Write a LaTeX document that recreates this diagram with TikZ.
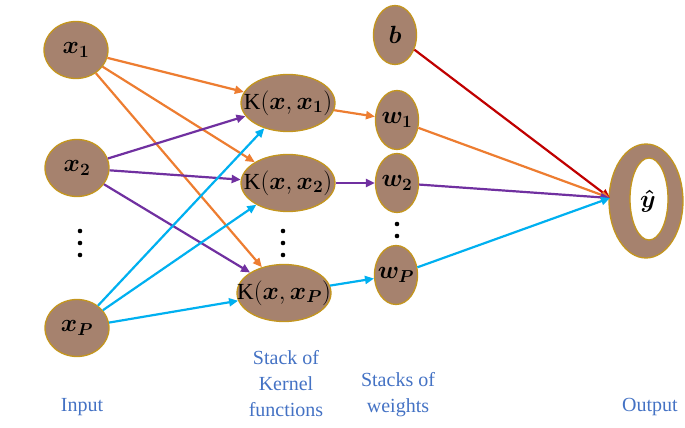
\documentclass[tikz,border=0pt]{standalone}
\usepackage{amsmath}
\usepackage{fontspec}
\setmainfont{Liberation Serif}
\usetikzlibrary{arrows.meta,shapes.geometric,calc}
\definecolor{nodebrown}{RGB}{166,130,110}
\definecolor{nodegold}{RGB}{196,150,30}
\definecolor{corange}{RGB}{237,125,49}
\definecolor{cpurple}{RGB}{112,48,160}
\definecolor{cblue}{RGB}{0,176,240}
\definecolor{cred}{RGB}{192,0,0}
\definecolor{lblue}{RGB}{68,114,196}
\tikzset{
  neuron/.style={ellipse,draw=nodegold,line width=1.3pt,fill=nodebrown,inner sep=0pt,font=\fontsize{24}{26}\selectfont},
  inpnode/.style={neuron,minimum width=64pt,minimum height=57pt},
  kernode/.style={neuron,minimum width=94pt,minimum height=57pt,font=\fontsize{23}{25}\selectfont},
  wnode/.style={neuron,minimum width=43pt,minimum height=59pt},
  conn/.style={line width=2.2pt,-{Triangle[length=9pt,width=8pt]}},
  lbl/.style={text=lblue,font=\fontsize{20}{26}\selectfont,align=center},
  dotmark/.style={fill=black}
}
\newcommand{\threedots}[1]{\fill[dotmark] ($(#1)+(0,-12)$) circle (2.3) (#1) circle (2.3) ($(#1)+(0,12)$) circle (2.3);}
\newcommand{\zw}[1]{\makebox[0pt][c]{#1}}
\begin{document}
\begin{tikzpicture}[x=1pt,y=-1pt]
\useasboundingbox (0,0) rectangle (685,428);
% output ring
\fill[nodebrown,even odd rule] (646,201) ellipse [x radius=37,y radius=57] (649,199) ellipse [x radius=19,y radius=41];
\draw[nodegold,line width=1.3pt] (646,201) ellipse [x radius=37,y radius=57];
\draw[nodegold,line width=1.3pt] (649,199) ellipse [x radius=19,y radius=41];
\node[ellipse,minimum width=74pt,minimum height=114pt,inner sep=0pt,font=\fontsize{24}{26}\selectfont] (y) at (646,201) {\raisebox{2pt}{\hspace{4pt}$\boldsymbol{\hat{y}}$}};
\coordinate (yin) at (610,198);
% input nodes
\node[inpnode] (x1) at (76,50) {$\boldsymbol{x_1}$};
\node[inpnode] (x2) at (77,168) {$\boldsymbol{x_2}$};
\coordinate (xd) at (80,243);
\threedots{xd}
\node[inpnode] (xP) at (77,328) {$\boldsymbol{x_P}$};
% kernel nodes
\node[kernode] (k1) at (288,103) {\zw{$\mathrm{K}(\boldsymbol{x},\boldsymbol{x_1})$}};
\node[kernode] (k2) at (288,183) {\zw{$\mathrm{K}(\boldsymbol{x},\boldsymbol{x_2})$}};
\coordinate (kd) at (283,243);
\threedots{kd}
\node[kernode] (kP) at (284,293) {\zw{$\mathrm{K}(\boldsymbol{x},\boldsymbol{x_P})$}};
% weights
\node[wnode] (b) at (395,35) {$\boldsymbol{b}$};
\node[wnode] (w1) at (397,120) {\zw{$\boldsymbol{w_1}$}};
\node[wnode] (w2) at (397,183) {\zw{$\boldsymbol{w_2}$}};
\coordinate (wd) at (397,236);
\threedots{wd}
\node[wnode] (wP) at (396,275) {\zw{$\boldsymbol{w_P}$}};
% connections input -> kernel
\draw[conn,corange] (x1) -- (k1);
\draw[conn,corange] (x1) -- (k2);
\draw[conn,corange] (x1) -- (kP);
\draw[conn,cpurple] (x2) -- (k1);
\draw[conn,cpurple] (x2) -- (k2);
\draw[conn,cpurple] (x2) -- (kP);
\draw[conn,cblue] (xP) -- (k1);
\draw[conn,cblue] (xP) -- (k2);
\draw[conn,cblue] (xP) -- (kP);
% kernel -> weights
\draw[conn,corange] (k1) -- (w1);
\draw[conn,cpurple] (k2) -- (w2);
\draw[conn,cblue] (kP) -- (wP);
% weights -> output
\draw[conn,cred] (b) -- (yin);
\draw[conn,corange] (w1) -- (yin);
\draw[conn,cpurple] (w2) -- (yin);
\draw[conn,cblue] (wP) -- (yin);
% labels
\node[lbl] (linput) at (82,407) {Input};
\node[lbl] (lkernel) at (286,384) {Stack of\\Kernel\\functions};
\node[lbl] (lweights) at (398,395) {Stacks of\\weights};
\node[lbl] (loutput) at (650,407) {Output};
\end{tikzpicture}
\end{document}
